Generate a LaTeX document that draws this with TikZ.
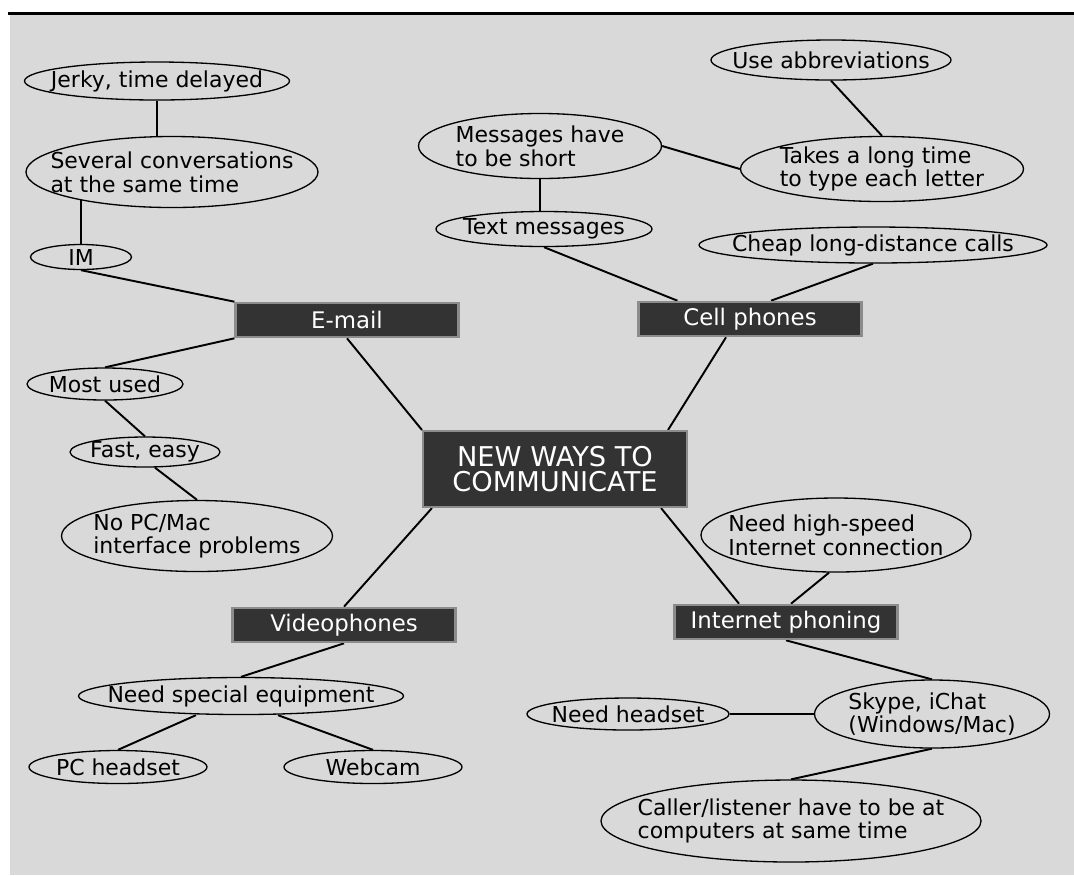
\documentclass[tikz,border=0pt]{standalone}
\usepackage{fontspec}
\setmainfont{DejaVu Sans}
\usetikzlibrary{shapes.geometric}
\definecolor{paper}{gray}{0.85}
\definecolor{boxfill}{gray}{0.2}
\pgfdeclarelayer{back}
\pgfdeclarelayer{edges}
\pgfsetlayers{back,edges,main}

\begin{document}
\begin{tikzpicture}[
    x=0.2mm, y=-0.2mm,
    bub/.style 2 args={draw, ellipse, fill=paper, line width=0.75pt, inner xsep=-5cm, inner ysep=-2cm, minimum width=#1, minimum height=#2, align=left, font=\fontsize{12.5}{13.5}\selectfont},
    topic/.style={draw=black!45, fill=boxfill, line width=1.2pt, text=white, inner sep=0pt, minimum width=44.6mm, minimum height=6.9mm, font=\fontsize{13}{14}\selectfont},
    hub/.style={topic, minimum width=52.8mm, minimum height=15.2mm, align=center, font=\fontsize{15.5}{14}\selectfont},
    ln/.style={line width=1.1pt}
]
    \useasboundingbox (0,0) rectangle (1074,875);
    \begin{pgfonlayer}{back}
        \fill[paper] (10,15) rectangle (1074,875);
        \draw[line width=0.6mm] (8,13) -- (1074,13);
    \end{pgfonlayer}

    \node[hub] (hub) at (555,469) {NEW WAYS TO\\COMMUNICATE};

    \node[topic] (email) at (347,320) {E-mail};
    \node[bub={53mm}{7.6mm}] (jerky) at (157,81) {Jerky, time delayed};
    \node[bub={58.4mm}{14.2mm}] (several) at (172,172) {Several conversations\\at the same time};
    \node[bub={20.2mm}{5mm}] (im) at (81,257) {IM};
    \node[bub={31.2mm}{6.4mm}] (most) at (105,384) {Most used};
    \node[bub={30mm}{6mm}] (fast) at (145,452) {Fast, easy};
    \node[bub={54.2mm}{14.2mm}] (nopc) at (197,536) {No PC/Mac\\interface problems};

    \node[topic] (video) at (344,625) {Videophones};
    \node[bub={65mm}{7.4mm}] (special) at (241,696) {Need special equipment};
    \node[bub={35.6mm}{6.6mm}] (pchead) at (118,767) {PC headset};
    \node[bub={35.6mm}{6.6mm}] (webcam) at (373,767) {Webcam};

    \node[topic] (cell) at (750,319) {Cell phones};
    \node[bub={48.6mm}{13mm}] (msgs) at (540,146) {Messages have\\to be short};
    \node[bub={43.2mm}{7mm}] (text) at (544,229) {Text messages};
    \node[bub={48mm}{8mm}] (abbrev) at (831,60) {Use abbreviations};
    \node[bub={56.6mm}{13mm}] (takes) at (882,169) {Takes a long time\\to type each letter};
    \node[bub={69.6mm}{7.2mm}] (cheap) at (873,245) {Cheap long-distance calls};

    \node[topic] (inet) at (786,622) {Internet phoning};
    \node[bub={54mm}{14.8mm}] (speed) at (836,535) {Need high-speed\\Internet connection};
    \node[bub={40.4mm}{6.4mm}] (headset) at (628,714) {Need headset};
    \node[bub={47mm}{13.6mm}] (skype) at (932,714) {Skype, iChat\\(Windows/Mac)};
    \node[bub={76mm}{16.4mm}] (caller) at (791,821) {Caller/listener have to be at\\computers at same time};

    \begin{pgfonlayer}{edges}
        \draw[ln] (jerky.south) -- (jerky.south |- several.center);
        \draw[ln] (im.north) -- (im.north |- several.center);
        \draw[ln] (im.south) -- (email.north west);
        \draw[ln] (email.south west) -- (most.north);
        \draw[ln] (email.south) -- (hub.north west);
        \draw[ln] (most.south) -- (fast.north);
        \draw[ln] ([xshift=2mm]fast.south) -- (nopc.north);
        \draw[ln] ([xshift=2mm]hub.south west) -- (video.north);
        \draw[ln] (video.south) -- (special.north);
        \draw[ln] ([xshift=-9mm]special.south) -- (pchead.north);
        \draw[ln] ([xshift=7.4mm]special.south) -- (webcam.north);
        \draw[ln] (msgs.south) -- (msgs.south |- text.center);
        \draw[ln] (msgs.east) -- (takes.west);
        \draw[ln] (abbrev.south) -- (takes.north);
        \draw[ln] (text.south) -- ([xshift=8mm]cell.north west);
        \draw[ln] (cheap.south) -- ([xshift=4.2mm]cell.north);
        \draw[ln] ([xshift=-4.8mm]cell.south) -- ([xshift=-4mm]hub.north east);
        \draw[ln] ([xshift=-5.4mm]hub.south east) -- ([xshift=-9.4mm]inet.north);
        \draw[ln] ([xshift=-1.4mm]speed.south) -- ([xshift=1mm]inet.north);
        \draw[ln] (inet.south) -- (skype.north);
        \draw[ln] (headset.east) -- (skype.west);
        \draw[ln] (skype.south) -- (caller.north);
    \end{pgfonlayer}
\end{tikzpicture}
\end{document}
